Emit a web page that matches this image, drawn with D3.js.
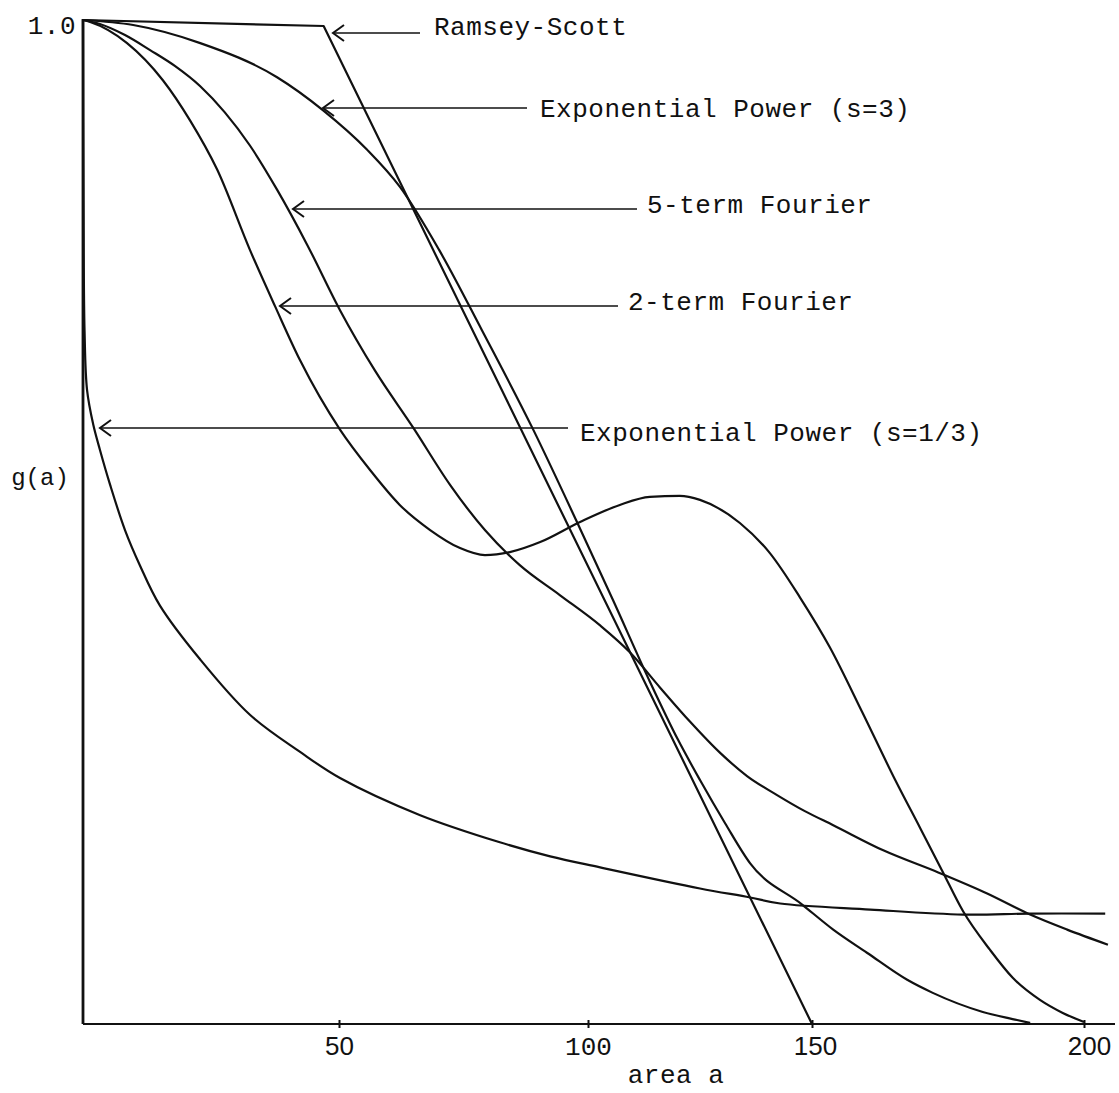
<!DOCTYPE html>
<html><head><meta charset="utf-8">
<script src="https://cdn.jsdelivr.net/npm/d3@7"></script>
<style>
html,body{margin:0;padding:0;background:#fff;}
svg{display:block;}
text{font-family:"Liberation Mono","Courier New",monospace;fill:#111;}
</style></head>
<body>
<svg id="chart" width="1119" height="1093"></svg>
<script>
// ---- data ----
const xTickValues = [50, 100, 150, 200];
const xTickLabels = ["50", "100", "150", "200"];
const yTickValues = [1.0];
const yTickLabels = ["1.0"];

const ramseyA = [0, 47, 150];
const ramseyG = [1.0, 0.994, 0];

const expPow3A = [0, 9.8, 22.9, 37.9, 46.9, 55.6, 62.2, 70.1, 78.7, 89.0, 97.6, 105.6, 113.6, 120.1, 125.0, 130.6, 136.2, 147.8, 153.9, 160.1, 167.5, 172.2, 181.4, 187.7, 190.1];
const expPow3G = [1, 0.995, 0.977, 0.943, 0.910, 0.871, 0.834, 0.771, 0.691, 0.592, 0.502, 0.422, 0.343, 0.283, 0.243, 0.200, 0.160, 0.119, 0.094, 0.071, 0.044, 0.031, 0.012, 0.004, 0.001];

const fourier5A = [0, 3.3, 8.2, 13.1, 18.0, 22.9, 27.7, 32.6, 37.9, 43.8, 50.2, 57.2, 64.9, 72.3, 79.3, 86.3, 94.4, 102.7, 109.4, 116.1, 122.8, 129.5, 135.5, 142.2, 148.4, 153.9, 163.1, 173.2, 182.2, 190.1, 196.9, 204.4];
const fourier5G = [1, 0.996, 0.985, 0.970, 0.954, 0.934, 0.908, 0.875, 0.831, 0.776, 0.711, 0.651, 0.594, 0.537, 0.492, 0.457, 0.427, 0.397, 0.370, 0.335, 0.301, 0.270, 0.247, 0.228, 0.212, 0.198, 0.173, 0.151, 0.130, 0.109, 0.094, 0.079];

const fourier2A = [0, 1.4, 8.6, 15.6, 20.9, 26.2, 32.6, 37.5, 42.4, 50.2, 56.2, 62.2, 68.3, 74.3, 79.3, 84.3, 90.4, 98.4, 107.1, 113.8, 120.5, 125.0, 133.9, 140.6, 147.3, 153.3, 159.2, 165.3, 169.9, 173.9, 177.8, 182.7, 186.9, 191.9, 196.1, 200];
const fourier2G = [1, 0.998, 0.977, 0.940, 0.900, 0.851, 0.771, 0.715, 0.661, 0.592, 0.552, 0.517, 0.492, 0.474, 0.467, 0.470, 0.480, 0.500, 0.517, 0.525, 0.526, 0.522, 0.499, 0.469, 0.425, 0.375, 0.311, 0.243, 0.195, 0.153, 0.112, 0.074, 0.046, 0.024, 0.011, 0.002];

const expPow13A = [0, 0.1, 0.3, 0.8, 2.0, 3.3, 5.3, 8.2, 11.1, 15.0, 22.9, 32.6, 42.4, 50.2, 66.3, 82.3, 92.4, 102.7, 125, 136.2, 142.9, 160.7, 177.8, 190.1, 203.9];
const expPow13G = [1, 0.821, 0.691, 0.631, 0.597, 0.572, 0.537, 0.492, 0.457, 0.417, 0.363, 0.308, 0.271, 0.245, 0.208, 0.181, 0.167, 0.156, 0.135, 0.126, 0.120, 0.114, 0.109, 0.110, 0.110];

const seriesNames = ["Ramsey-Scott", "Exponential Power (s=3)", "5-term Fourier", "2-term Fourier", "Exponential Power (s=1/3)"];

const xAxisTitle = "area a";
const yAxisTitle = "g(a)";

// ---- layout ----
const svg = d3.select("#chart");
const x = d3.scaleLinear().domain([0, 50, 100, 150, 200]).range([83, 339, 588, 812, 1084]);
const y = d3.scaleLinear().domain([0, 1]).range([1024, 20]);

const series = [
  {a: ramseyA, g: ramseyG, kind: "straight"},
  {a: expPow3A, g: expPow3G, kind: "smooth"},
  {a: fourier5A, g: fourier5G, kind: "smooth"},
  {a: fourier2A, g: fourier2G, kind: "smooth"},
  {a: expPow13A, g: expPow13G, kind: "cr"}
];

// axes lines
svg.append("line").attr("x1", x(0)).attr("x2", 1115).attr("y1", y(0)).attr("y2", y(0))
  .attr("stroke", "#111").attr("stroke-width", 2.2);
svg.append("line").attr("x1", x(0)).attr("x2", x(0)).attr("y1", y(1) - 1).attr("y2", y(0))
  .attr("stroke", "#111").attr("stroke-width", 2.8);

// x ticks
const xAxis = d3.axisBottom(x).tickValues(xTickValues).tickSize(5).tickSizeOuter(0)
  .tickFormat((d, i) => xTickLabels[i]);
const gx = svg.append("g").attr("transform", `translate(0,${y(0)})`).call(xAxis);
gx.select(".domain").remove();
gx.selectAll(".tick line").attr("stroke", "#111").attr("stroke-width", 2).attr("y1", -4).attr("y2", 4);
gx.selectAll(".tick text")
  .attr("y", 13)
  .attr("dx", d => d === 200 ? 5 : (d === 150 ? 3 : 0))
  .style("font-size", "26px")
  .style("font-family", d => d === 100 ? '"Liberation Mono", monospace' : '"Liberation Sans", Arial, sans-serif')
  .attr("fill", "#111");

// y tick label
const yAxis = d3.axisLeft(y).tickValues(yTickValues).tickSize(0).tickFormat((d, i) => yTickLabels[i]);
const gy = svg.append("g").attr("transform", `translate(${x(0)},0)`).call(yAxis);
gy.select(".domain").remove();
gy.selectAll(".tick text").attr("x", -7).attr("dy", "0.5em").style("font-size", "26px")
  .style("letter-spacing", "0.5px").attr("fill", "#111");

// axis titles
svg.append("text").attr("x", 676).attr("y", 1083).attr("text-anchor", "middle")
  .style("font-size", "26px").style("letter-spacing", "0.5px").text(xAxisTitle);
svg.append("text").attr("x", 40).attr("y", 485).attr("text-anchor", "middle")
  .style("font-size", "24px").text(yAxisTitle);

// curves
const gens = {
  straight: d3.line().x(d => x(d[0])).y(d => y(d[1])),
  smooth: d3.line().x(d => x(d[0])).y(d => y(d[1])).curve(d3.curveMonotoneX),
  cr: d3.line().x(d => x(d[0])).y(d => y(d[1])).curve(d3.curveCatmullRom.alpha(0.5))
};
series.forEach(s => {
  const pts = s.a.map((v, i) => [v, s.g[i]]);
  svg.append("path").datum(pts)
    .attr("d", gens[s.kind])
    .attr("fill", "none").attr("stroke", "#111").attr("stroke-width", 2.2)
    .attr("stroke-linejoin", "round");
});

// labels with arrows
const labelLayout = [
  {tipX: 333, tailX: 420, arrowY: 33, textX: 434, textY: 35},
  {tipX: 323, tailX: 527, arrowY: 108, textX: 540, textY: 117},
  {tipX: 293, tailX: 637, arrowY: 209, textX: 647, textY: 213},
  {tipX: 280, tailX: 618, arrowY: 306, textX: 628, textY: 310},
  {tipX: 100, tailX: 568, arrowY: 428, textX: 580, textY: 441}
];
seriesNames.forEach((name, i) => {
  const L = labelLayout[i];
  svg.append("line").attr("x1", L.tipX).attr("x2", L.tailX).attr("y1", L.arrowY).attr("y2", L.arrowY)
    .attr("stroke", "#111").attr("stroke-width", 1.6);
  svg.append("path")
    .attr("d", `M${L.tipX + 11},${L.arrowY - 8} L${L.tipX},${L.arrowY} L${L.tipX + 11},${L.arrowY + 8}`)
    .attr("fill", "none").attr("stroke", "#111").attr("stroke-width", 2);
  svg.append("text").attr("x", L.textX).attr("y", L.textY)
    .style("font-size", "26px").style("letter-spacing", "0.5px").text(name);
});
</script>
</body></html>
